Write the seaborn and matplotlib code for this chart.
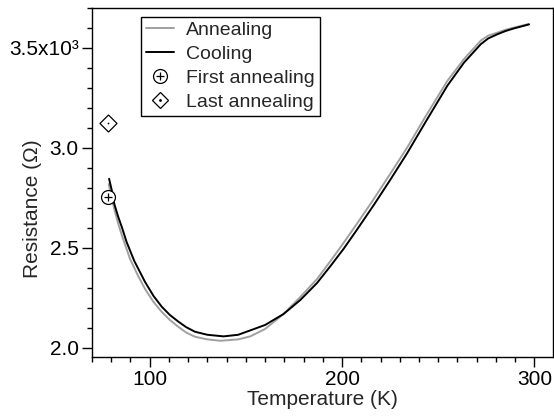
import numpy as np
import pandas as pd
import matplotlib
matplotlib.use("Agg")
import matplotlib.pyplot as plt
from matplotlib.lines import Line2D
from matplotlib.legend_handler import HandlerTuple
from matplotlib.ticker import MultipleLocator, FixedLocator, FixedFormatter
import seaborn as sns

# Data (resistance in units of 10^3 Ohm)
anneal_T = [78.7, 80, 82, 84, 86, 89.8, 94, 97.6, 102, 106.3, 110.5, 115, 119, 123.6,
            130, 136.7, 146, 152.3, 160, 169.6, 178.3, 187, 194, 200.9, 208, 216.5, 225,
            233.9, 243.4, 254.7, 263.4, 272.1, 276, 280.8, 285, 289.4, 297]
anneal_R = [2.82, 2.76, 2.68, 2.61, 2.55, 2.445, 2.36, 2.295, 2.23, 2.18, 2.14, 2.105, 2.077, 2.056,
            2.043, 2.036, 2.043, 2.058, 2.095, 2.17, 2.255, 2.345, 2.435, 2.527, 2.625, 2.745, 2.87,
            3.003, 3.158, 3.335, 3.445, 3.537, 3.562, 3.577, 3.591, 3.602, 3.62]

cool_T = [78.9, 80.5, 81.6, 83.5, 85.5, 88, 92, 97.6, 102, 106.3, 110.5, 115, 119, 123.6,
          130, 138.4, 146, 152.3, 160, 169.6, 178.3, 187, 194, 200.9, 208, 216.5, 225,
          233.9, 243.4, 254.7, 263.4, 272.1, 276, 280.8, 285, 289.4, 297.2]
cool_R = [2.846, 2.78, 2.721, 2.66, 2.605, 2.53, 2.435, 2.33, 2.26, 2.206, 2.165, 2.131, 2.104, 2.081,
          2.066, 2.058, 2.066, 2.088, 2.115, 2.17, 2.24, 2.325, 2.41, 2.497, 2.595, 2.715, 2.84,
          2.975, 3.13, 3.311, 3.427, 3.519, 3.548, 3.569, 3.585, 3.598, 3.618]

first_T = [78.1]
first_R = [2.754]
last_T = [78.1]
last_R = [3.123]

xticks = [100, 200, 300]
yticks = [2.0, 2.5, 3.0, 3.5]
ytick_labels = ["2.0", "2.5", "3.0", "3.5x10\u00b3"]

sns.set_style("ticks")
plt.rcParams['font.family'] = ['Liberation Sans', 'DejaVu Sans']

fig = plt.figure(figsize=(5.54, 4.2), dpi=100)
ax = fig.add_axes([0.166, 0.151, 0.8317, 0.830])

df_a = pd.DataFrame({"T": anneal_T, "R": anneal_R})
df_c = pd.DataFrame({"T": cool_T, "R": cool_R})
sns.lineplot(data=df_a, x="T", y="R", ax=ax, color="#a0a0a0", lw=1.4, sort=False)
sns.lineplot(data=df_c, x="T", y="R", ax=ax, color="black", lw=1.4, sort=False)

df_f = pd.DataFrame({"T": first_T, "R": first_R})
df_l = pd.DataFrame({"T": last_T, "R": last_R})
sns.scatterplot(data=df_f, x="T", y="R", ax=ax, marker="o", s=100, facecolor="white",
                edgecolor="black", linewidth=0.9, zorder=5)
sns.scatterplot(data=df_f, x="T", y="R", ax=ax, marker="+", s=40, color="black",
                linewidth=0.9, zorder=6)
sns.scatterplot(data=df_l, x="T", y="R", ax=ax, marker="D", s=75, facecolor="white",
                edgecolor="black", linewidth=0.9, zorder=5)
sns.scatterplot(data=df_l, x="T", y="R", ax=ax, marker=".", s=6, color="black",
                linewidth=0, zorder=6)

ax.set_xlim(70, 309.5)
ax.set_ylim(1.957, 3.70)
ax.xaxis.set_major_locator(FixedLocator(xticks))
ax.xaxis.set_minor_locator(MultipleLocator(10))
ax.yaxis.set_major_locator(FixedLocator(yticks))
ax.yaxis.set_major_formatter(FixedFormatter(ytick_labels))
ax.yaxis.set_minor_locator(MultipleLocator(0.1))
ax.tick_params(axis="both", which="major", direction="out", length=7, width=1,
               labelsize=15, colors="black", pad=2.5)
ax.tick_params(axis="both", which="minor", direction="out", length=3.7, width=1, colors="black")
ax.tick_params(top=False, right=False, which="both")
for sp in ax.spines.values():
    sp.set_visible(True)
    sp.set_linewidth(1.0)
    sp.set_color("black")

ax.set_xlabel("Temperature (K)", fontsize=15, labelpad=1)
ax.set_ylabel("Resistance (\u03a9)", fontsize=15)
ax.yaxis.set_label_coords(-0.109, 0.424)

h_a = Line2D([], [], color="#a0a0a0", lw=1.4)
h_c = Line2D([], [], color="black", lw=1.4)
h_f1 = Line2D([], [], marker="o", ls="none", ms=10, mfc="white", mec="black", mew=0.9)
h_f2 = Line2D([], [], marker="+", ls="none", ms=6, color="black", mew=0.9)
h_l1 = Line2D([], [], marker="D", ls="none", ms=8.5, mfc="white", mec="black", mew=0.9)
h_l2 = Line2D([], [], marker=".", ls="none", ms=2, color="black")
leg = ax.legend([h_a, h_c, (h_f1, h_f2), (h_l1, h_l2)],
                ["Annealing", "Cooling", "First annealing", "Last annealing"],
                handler_map={tuple: HandlerTuple(ndivide=1, pad=0)},
                loc="upper left", bbox_to_anchor=(0.106, 0.975), fontsize=14,
                frameon=True, fancybox=False, edgecolor="black", framealpha=1,
                handlelength=1.45, handletextpad=0.62, labelspacing=0.33,
                borderpad=0.25, borderaxespad=0)
leg.get_frame().set_linewidth(1.0)

fig.savefig("out.png", dpi=100)
